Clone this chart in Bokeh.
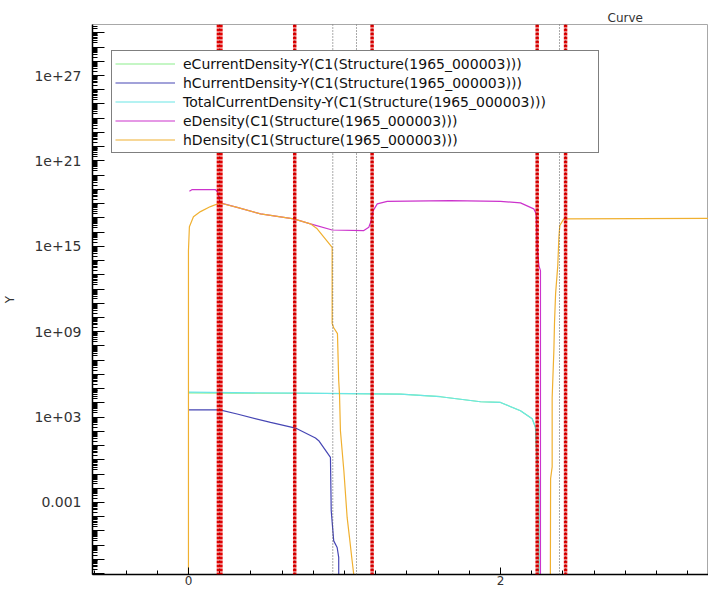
from bokeh.plotting import figure
from bokeh.models import Range1d, FixedTicker, Span, Legend, LegendItem
from bokeh.embed import file_html
from bokeh.resources import INLINE

# ---------------- data ----------------
ecur_x = [0.0, 0.24, 0.42, 0.718, 1.359, 1.615, 1.872, 2.0, 2.128, 2.203, 2.224, 2.231, 2.239, 2.246, 2.246]
ecur_y = [5.0e4, 4.9e4, 4.75e4, 4.75e4, 4.1e4, 2.7e4, 1.2e4, 1.07e4, 2.8e3, 7.7e2, 1.9e2, 4.4, 0.17, 0.034, 1e-20]

hcur_x = [0.0, 0.201, 0.312, 0.526, 0.686, 0.814, 0.835, 0.910, 0.915, 0.931, 0.953, 0.963, 0.963]
hcur_y = [3.2e3, 3.2e3, 1.65e3, 4.2e2, 1.7e2, 34, 22, 1.47, 2.6e-4, 2.0e-6, 6.9e-7, 1.4e-7, 1e-20]

tot_x = [0.0, 0.718, 1.359, 1.615, 1.872, 2.0, 2.128, 2.203, 2.224, 2.231, 2.239, 2.246, 2.246]
tot_y = [5.6e4, 4.8e4, 4.1e4, 2.7e4, 1.2e4, 1.07e4, 2.8e3, 7.7e2, 1.9e2, 4.4, 0.17, 0.034, 1e-20]

edens_x = [0.006, 0.024, 0.173, 0.188, 0.201, 0.216, 0.312, 0.462, 0.675, 0.782, 0.921, 1.124,
           1.156, 1.171, 1.184, 1.210, 1.274, 1.679, 2.0, 2.128, 2.213, 2.229, 2.235, 2.246, 2.256, 2.256]
edens_y = [7.4e18, 9.7e18, 9.7e18, 6.3e18, 1.24e18, 1.05e18, 5.5e17, 1.9e17, 8.4e16, 3.8e16, 1.4e16, 1.27e16,
           2.2e16, 6.4e16, 3.2e17, 9.6e17, 1.45e18, 1.6e18, 1.45e18, 1.12e18, 4.3e17, 1.9e17, 8.5e14, 4.4e13, 1.95e13, 1e-20]

hdens_x = [0.0, 0.0, 0.006, 0.032, 0.077, 0.141, 0.201, 0.312, 0.462, 0.675, 0.782, 0.825, 0.921, 0.921,
           0.931, 0.955, 0.963, 0.968, 0.974, 0.996, 1.017, 1.032, 1.049, 1.064, 1.064, 2.317, 2.321, 2.331,
           2.331, 2.342, 2.346, 2.353, 2.367, 2.374, 2.380, 2.406, 3.6]
hdens_y = [1e-20, 5.0e14, 2.4e16, 1.2e17, 2.75e17, 6.2e17, 1.1e18, 5.5e17, 1.9e17, 8.4e16, 3.8e16, 1.7e16, 8.5e14, 3.7e9,
           1.9e9, 7.3e8, 3.6e5, 4.4e4, 110, 0.17, 8.9e-5, 3.5e-6, 8e-8, 3.2e-9, 1e-20, 1e-20, 0.047, 0.32,
           2.3e4, 4.7e7, 4.3e9, 4.7e11, 4.4e13, 4.1e15, 2.9e16, 8.4e16, 9.3e16]

series_names = [
    "eCurrentDensity-Y(C1(Structure(1965_000003)))",
    "hCurrentDensity-Y(C1(Structure(1965_000003)))",
    "TotalCurrentDensity-Y(C1(Structure(1965_000003)))",
    "eDensity(C1(Structure(1965_000003)))",
    "hDensity(C1(Structure(1965_000003)))",
]
series_colors = ["#8cee8c", "#4646b4", "#6ae6e6", "#cc33cc", "#f0b030"]

red_x = [0.2, 0.681, 1.177, 2.235, 2.417]
red_w = [6, 3.5, 3.5, 3.5, 3.5]
dot_x = [0.925, 1.077, 2.378]

x_major_ticks = [0, 2]
x_minor_ticks = [round(-0.6 + 0.2 * i, 2) for i in range(21)]
y_decades = list(range(-9, 32))
y_tick_labels = {-3: "0.001", 3: "1e+03", 9: "1e+09", 15: "1e+15", 21: "1e+21", 27: "1e+27"}

FONT = "DejaVu Sans"

p = figure(width=708, height=587, y_axis_type="log",
           x_range=Range1d(-0.615, 3.333), y_range=Range1d(10 ** -8.06, 10 ** 30.585),
           output_backend="svg", toolbar_location=None,
           min_border_left=92, min_border_right=0, min_border_top=24, min_border_bottom=0,
           title="Curve")
p.title.align = "left"
p.title.offset = 515
p.title.text_font = FONT
p.title.text_font_size = "12px"
p.title.text_font_style = "normal"
p.title.text_color = "#333333"
p.title.standoff = 0

p.xgrid.visible = False
p.ygrid.visible = False
p.outline_line_color = "#a8a8a8"
p.background_fill_color = "white"
p.border_fill_color = "white"

# x axis
xa = p.xaxis[0]
xa.ticker = FixedTicker(ticks=x_major_ticks, minor_ticks=x_minor_ticks)
xa.major_tick_in = 7
xa.major_tick_out = 0
xa.minor_tick_in = 4
xa.minor_tick_out = 0
xa.axis_line_color = "black"
xa.axis_line_width = 1.5
xa.major_label_text_font = FONT
xa.major_label_text_font_size = "12px"
xa.major_label_text_color = "#333333"
xa.major_label_standoff = 1

# y axis
ya = p.yaxis[0]
ya.ticker = FixedTicker(ticks=[10.0 ** k for k in y_decades],
                        minor_ticks=[m * 10.0 ** k for k in y_decades for m in range(2, 10)])
ya.major_label_overrides = {10.0 ** k: y_tick_labels.get(k, "") for k in y_decades}
ya.major_tick_in = 12
ya.major_tick_out = 0
ya.minor_tick_in = 5
ya.minor_tick_out = 0
ya.axis_line_color = "black"
ya.axis_line_width = 1.5
ya.major_label_text_font = FONT
ya.major_label_text_font_size = "14px"
ya.major_label_text_color = "#333333"
ya.major_label_standoff = 11
ya.axis_label = "Y"
ya.axis_label_text_font = FONT
ya.axis_label_text_font_size = "12px"
ya.axis_label_text_font_style = "normal"
ya.axis_label_text_color = "#333333"
ya.axis_label_standoff = 14

xs = [ecur_x, hcur_x, tot_x, edens_x, hdens_x]
ys = [ecur_y, hcur_y, tot_y, edens_y, hdens_y]
renderers = []
for x, y, c in zip(xs, ys, series_colors):
    renderers.append(p.line(x, y, line_color=c, line_width=1.2))

for xv, w in zip(red_x, red_w):
    p.add_layout(Span(location=xv, dimension="height", line_color="#e20000", line_width=w, line_dash="3 1"))
    p.add_layout(Span(location=xv, dimension="height", line_color="#300000", line_width=1, line_dash="1 3", line_alpha=0.7))
for xv in dot_x:
    p.add_layout(Span(location=xv, dimension="height", line_color="#555555", line_width=1, line_dash="1 2"))

legend = Legend(items=[LegendItem(label=n, renderers=[r]) for n, r in zip(series_names, renderers)],
                location=(19, 421), margin=0, padding=3, spacing=0,
                glyph_width=60, glyph_height=19, label_height=19, label_width=412, label_standoff=8,
                label_text_font=FONT, label_text_font_size="14px", label_text_color="#111111",
                border_line_color="black", border_line_width=1,
                background_fill_color="white", background_fill_alpha=1.0)
p.add_layout(legend)

open("out.html", "w").write(file_html(p, INLINE))
